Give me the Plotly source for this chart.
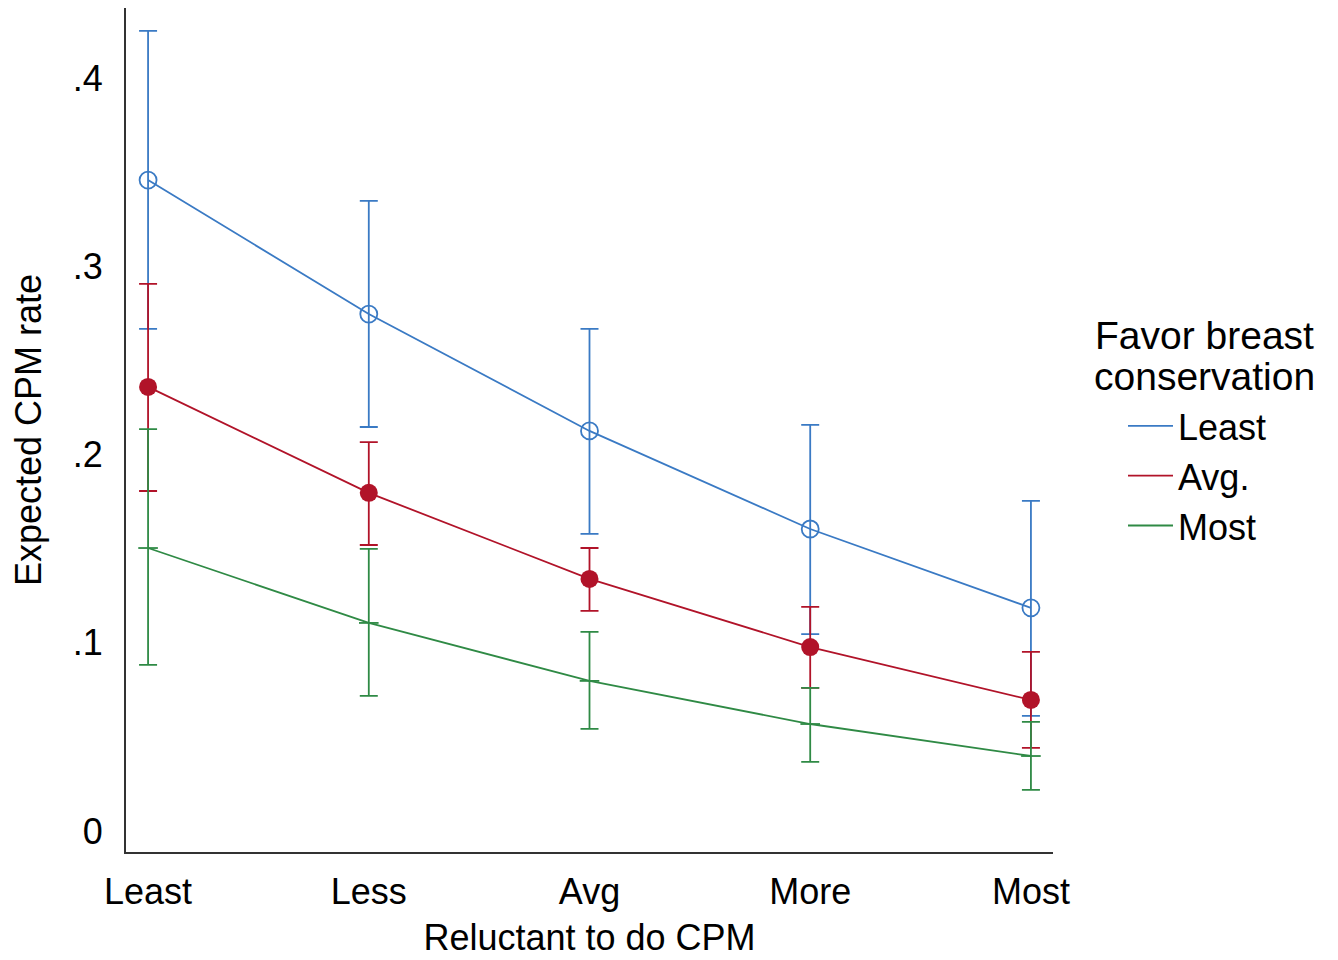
import plotly.graph_objects as go

categories = ["Least", "Less", "Avg", "More", "Most"]
x_pos = [0, 1, 2, 3, 4]

least_mean = [0.3458, 0.2746, 0.2125, 0.1604, 0.1185]
least_hi = [0.4250, 0.3347, 0.2667, 0.2157, 0.1753]
least_lo = [0.2667, 0.2146, 0.1578, 0.1046, 0.0611]

avg_mean = [0.2359, 0.1796, 0.1339, 0.0977, 0.0696]
avg_hi = [0.2906, 0.2066, 0.1503, 0.1190, 0.0951]
avg_lo = [0.1806, 0.1519, 0.1169, 0.0760, 0.0441]

most_mean = [0.1503, 0.1105, 0.0797, 0.0568, 0.0398]
most_hi = [0.2135, 0.1498, 0.1057, 0.0760, 0.0579]
most_lo = [0.0882, 0.0717, 0.0542, 0.0367, 0.0218]

y_ticks = [0, 0.1, 0.2, 0.3, 0.4]
y_ticktext = ["0", ".1", ".2", ".3", ".4"]

series_names = ["Least", "Avg.", "Most"]
legend_title_lines = ["Favor breast", "conservation"]
colors = ["#3a7ac4", "#b11329", "#2f8a45"]

FONT = "Liberation Sans, Arial, sans-serif"

# page is rendered with an 8px body margin: plot area 126..1053 x 8..852 on screen
ML, MT = 118, 0
MR = 1338 - (1053 - 8)
MB = 960 - (852 - 8)

fig = go.Figure()

def add_series(mean, hi, lo, color, marker):
    fig.add_trace(go.Scatter(
        x=x_pos, y=mean, mode="lines+markers",
        line=dict(color=color, width=1.8),
        marker=marker,
        error_y=dict(type="data", symmetric=False,
                     array=[h - m for h, m in zip(hi, mean)],
                     arrayminus=[m - l for m, l in zip(mean, lo)],
                     color=color, thickness=1.8, width=9),
        showlegend=False,
    ))

add_series(least_mean, least_hi, least_lo, colors[0],
           dict(symbol="circle-open", size=17, color=colors[0], line=dict(width=1.8, color=colors[0])))
add_series(avg_mean, avg_hi, avg_lo, colors[1],
           dict(symbol="circle", size=18, color=colors[1]))
add_series(most_mean, most_hi, most_lo, colors[2],
           dict(symbol="line-ew", size=14, color=colors[2], line=dict(width=1.8, color=colors[2])))

for name, c in zip(series_names, colors):
    fig.add_trace(go.Scatter(x=[None], y=[None], mode="lines", name=name,
                             line=dict(color=c, width=1.8), showlegend=True))

plot_w = 1338 - ML - MR
plot_h = 960 - MT - MB

def px_x(sx):  # screen x -> paper x
    return (sx - 8 - ML) / plot_w

def px_y(sy):  # screen y -> paper y
    return 1 - (sy - 8 - MT) / plot_h

fig.update_layout(
    width=1338, height=960,
    paper_bgcolor="white", plot_bgcolor="white",
    margin=dict(l=ML, r=MR, t=MT, b=MB),
    font=dict(family=FONT, size=36, color="black"),
    legend=dict(
        x=px_x(1123), y=px_y(396), xanchor="left", yanchor="top",
        font=dict(size=36), itemwidth=45, tracegroupgap=0,
        bgcolor="rgba(0,0,0,0)",
    ),
    annotations=[
        dict(text=legend_title_lines[0], xref="paper", yref="paper",
             x=px_x(1204), y=px_y(335), xanchor="center", yanchor="middle",
             showarrow=False, font=dict(size=39)),
        dict(text=legend_title_lines[1], xref="paper", yref="paper",
             x=px_x(1204), y=px_y(376), xanchor="center", yanchor="middle",
             showarrow=False, font=dict(size=39)),
    ],
)
fig.update_xaxes(
    range=[-0.1, 4.1], tickvals=x_pos, ticktext=categories,
    showgrid=False, zeroline=False, showline=True, linecolor="#333", linewidth=2,
    ticks="", ticklabelstandoff=7, tickfont=dict(size=36),
    title=dict(text="Reluctant to do CPM", font=dict(size=36), standoff=14),
)
fig.update_yaxes(
    range=[-0.0112, 0.4372], tickvals=y_ticks, ticktext=y_ticktext,
    showgrid=False, zeroline=False, showline=True, linecolor="#333", linewidth=2,
    ticks="", ticklabelstandoff=14, tickfont=dict(size=36),
    title=dict(text="Expected CPM rate", font=dict(size=36), standoff=22),
)

fig.write_html("out.html")
